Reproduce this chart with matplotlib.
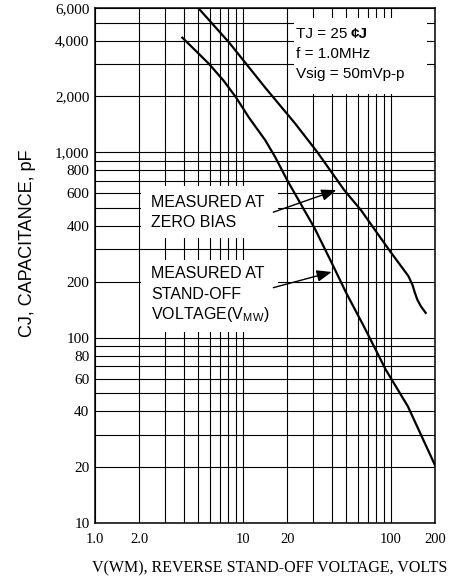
import numpy as np
import matplotlib
matplotlib.use('Agg')
import matplotlib.pyplot as plt
from matplotlib.ticker import FixedLocator, LogLocator, NullFormatter
from matplotlib.patches import Rectangle

# values (volts, pF)
zero_bias_v = [5.0, 8.1, 14.2, 22.6, 32, 48.6, 63, 100, 132, 141, 146, 152, 161, 173]
zero_bias_c = [6000, 3900, 2230, 1430, 1000, 625, 488, 290, 215, 192, 175, 160, 147, 136]

standoff_v = [3.9, 4.8, 5.9, 7.4, 9, 11, 14.2, 16.6, 20, 30.6, 40, 50, 66, 93, 131, 200]
standoff_c = [4150, 3530, 3000, 2440, 1977, 1540, 1161, 940, 706, 390, 253, 175,
              115, 67, 42.6, 20.5]

x_ticks = [1, 2, 10, 20, 100, 200]
x_tick_labels = ['1.0', '2.0', '10', '20', '100', '200']
y_ticks = [10, 20, 40, 60, 80, 100, 200, 400, 600, 800, 1000, 2000, 4000, 6000]
y_tick_labels = ['{:,}'.format(v) for v in y_ticks]

# arrows: (tail, head) in data coords
arrow_zero = ((16.1, 475), (43.0, 625))
arrow_standoff = ((16.1, 186), (40.0, 226))

serif = 'Liberation Serif'
sans = 'Liberation Sans'

fig = plt.figure(figsize=(4.55, 5.8), dpi=100)
ax = fig.add_axes([95 / 455, 57 / 580, 340 / 455, 515 / 580])
ax.set_xscale('log')
ax.set_yscale('log')
ax.set_xlim(1, 200)
ax.set_ylim(10, 6000)

ax.xaxis.set_major_locator(FixedLocator(x_ticks))
ax.set_xticklabels(x_tick_labels)
ax.xaxis.set_minor_locator(LogLocator(base=10, subs=np.arange(2, 10)))
ax.xaxis.set_minor_formatter(NullFormatter())
ax.yaxis.set_major_locator(FixedLocator(y_ticks))
ax.set_yticklabels(y_tick_labels)
ax.yaxis.set_minor_locator(LogLocator(base=10, subs=np.arange(2, 10)))
ax.yaxis.set_minor_formatter(NullFormatter())

ax.tick_params(which='both', length=0)
ax.tick_params(axis='x', pad=7)
ax.tick_params(axis='y', pad=4)
for lab in ax.get_xticklabels():
    lab.set_family(serif)
    lab.set_fontsize(10.5)
for lab in ax.get_yticklabels():
    lab.set_family(serif)
    lab.set_fontsize(11)

ax.set_axisbelow(True)
ax.grid(which='both', color='black', lw=0.8)
for s in ax.spines.values():
    s.set_linewidth(1.1)

ax.plot(zero_bias_v, zero_bias_c, color='black', lw=1.6, zorder=3)
ax.plot(standoff_v, standoff_c, color='black', lw=1.6, zorder=3)

# white patches hide the grid behind the text blocks
for x0, y0, w, h in [(0.585, 0.833, 0.391, 0.148),
                     (0.135, 0.553, 0.403, 0.101),
                     (0.135, 0.371, 0.403, 0.140)]:
    ax.add_patch(Rectangle((x0, y0), w, h, transform=ax.transAxes,
                           facecolor='white', edgecolor='none', zorder=1))


def put(x, y, s, size, **kw):
    ax.text(x, y, s, transform=ax.transAxes, family=sans, fontsize=size,
            va='baseline', ha='left', zorder=4, **kw)


put(0.591, 0.942, 'TJ = 25', 11)
put(0.752, 0.942, '¢J', 11, weight='bold')
put(0.591, 0.903, 'f = 1.0MHz', 11)
put(0.591, 0.864, 'Vsig = 50mVp-p', 11)

put(0.165, 0.614, 'MEASURED AT', 11.5)
put(0.165, 0.575, 'ZERO BIAS', 11.5)
put(0.165, 0.476, 'MEASURED AT', 11.5)
put(0.165, 0.435, 'STAND-OFF', 11.5)
put(0.165, 0.396, 'VOLTAGE(V$_\\mathregular{MW}$)', 11.5)

for tail, head in (arrow_zero, arrow_standoff):
    ax.annotate('', xy=head, xytext=tail,
                arrowprops=dict(arrowstyle='-|>,head_length=0.9,head_width=0.35',
                                color='black', lw=1.0, shrinkA=0, shrinkB=0),
                zorder=5)

ax.set_xlabel('V(WM), REVERSE STAND-OFF VOLTAGE, VOLTS', family=serif,
              fontsize=11.5)
ax.xaxis.set_label_coords(0.515, -0.072)
ax.set_ylabel('CJ, CAPACITANCE, pF', family=sans, fontsize=13)
ax.yaxis.set_label_coords(-0.174, 0.544)

fig.savefig('out.png', dpi=100)
